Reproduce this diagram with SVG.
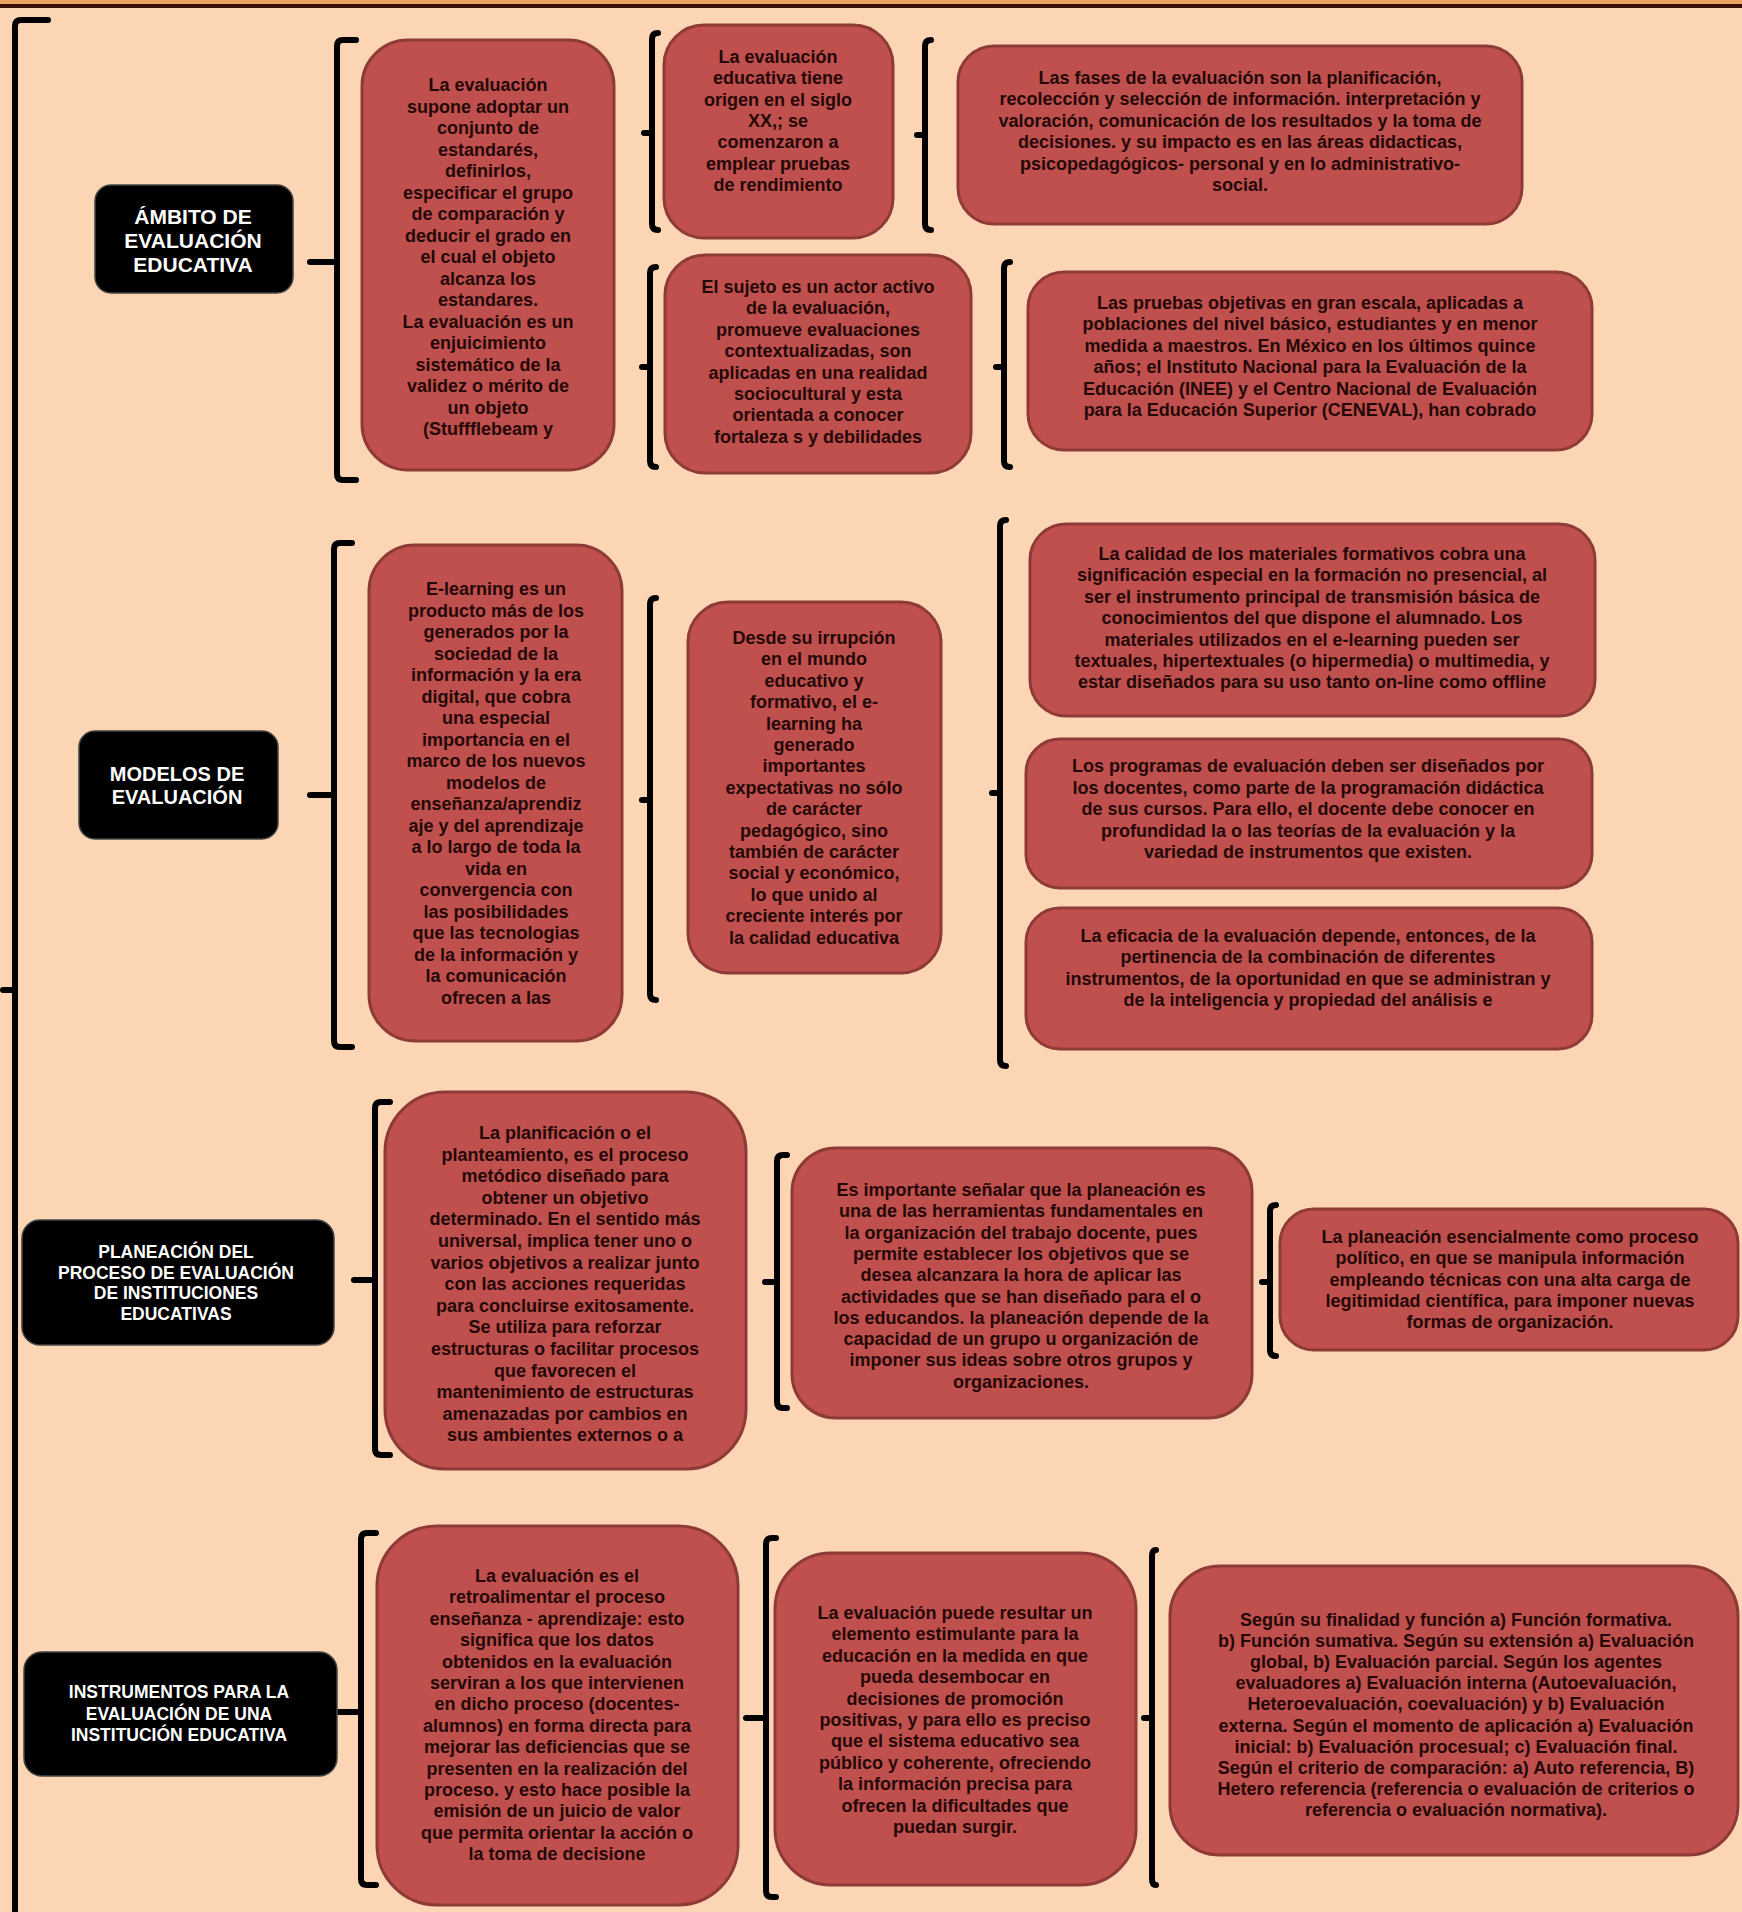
<svg xmlns="http://www.w3.org/2000/svg" width="1742" height="1912" viewBox="0 0 1742 1912">
<style>
.bg{fill:#FCD5B5}
.bx{fill:#C0504D;stroke:#8E3A37;stroke-width:3}
.hd{fill:#000;stroke:#444;stroke-width:1.5}
.t{font-family:"Liberation Sans",Arial,sans-serif;font-size:18px;font-weight:bold;fill:#240808;text-anchor:middle}
.h{font-family:"Liberation Sans",Arial,sans-serif;font-weight:bold;fill:#fff;text-anchor:middle}
.br{fill:none;stroke:#000;stroke-width:6;stroke-linecap:round;stroke-linejoin:round}
.nb{fill:none;stroke:#000;stroke-width:6;stroke-linecap:round}
</style>
<rect class="bg" x="0" y="0" width="1742" height="1912"/>
<rect x="0" y="0" width="1742" height="4" fill="#E8A462"/>
<rect x="0" y="4" width="1742" height="4" fill="#3A0E08"/>

<g id="connectors">
  <!-- main bracket -->
  <path class="br" stroke-width="5" d="M48 20 L21 20 Q15 20 15 26 L15 1930"/>
  <path class="nb" stroke-width="5" d="M3 990 L15 990"/>
  <!-- row 1 -->
  <path class="br" d="M356 40 L343 40 Q337 40 337 46 L337 474 Q337 480 343 480 L356 480"/>
  <path class="nb" d="M310 262 L337 262"/>
  <path class="br" d="M658 33 Q652 33 652 39 L652 224 Q652 230 658 230"/>
  <path class="nb" d="M644 133 L652 133"/>
  <path class="br" d="M931 40 Q925 40 925 46 L925 224 Q925 230 931 230"/>
  <path class="nb" d="M917 135 L925 135"/>
  <path class="br" d="M656 267 Q650 267 650 273 L650 461 Q650 467 656 467"/>
  <path class="nb" d="M642 367 L650 367"/>
  <path class="br" d="M1010 262 Q1004 262 1004 268 L1004 461 Q1004 467 1010 467"/>
  <path class="nb" d="M996 367 L1004 367"/>
  <!-- row 2 -->
  <path class="br" d="M352 543 L340 543 Q334 543 334 549 L334 1041 Q334 1047 340 1047 L352 1047"/>
  <path class="nb" d="M310 795 L334 795"/>
  <path class="br" d="M656 598 Q650 598 650 604 L650 994 Q650 1000 656 1000"/>
  <path class="nb" d="M642 800 L650 800"/>
  <path class="br" d="M1006 520 Q1000 520 1000 526 L1000 1060 Q1000 1066 1006 1066"/>
  <path class="nb" d="M992 793 L1000 793"/>
  <!-- row 3 -->
  <path class="br" d="M390 1102 L381 1102 Q375 1102 375 1108 L375 1449 Q375 1455 381 1455 L390 1455"/>
  <path class="nb" d="M354 1280 L375 1280"/>
  <path class="br" d="M787 1155 L783 1155 Q777 1155 777 1161 L777 1402 Q777 1408 783 1408 L787 1408"/>
  <path class="nb" d="M765 1282 L777 1282"/>
  <path class="br" d="M1276 1205 Q1270 1205 1270 1211 L1270 1350 Q1270 1356 1276 1356"/>
  <path class="nb" d="M1262 1282 L1270 1282"/>
  <!-- row 4 -->
  <path class="br" d="M376 1533 L367 1533 Q361 1533 361 1539 L361 1879 Q361 1885 367 1885 L376 1885"/>
  <path class="nb" d="M339 1712 L361 1712"/>
  <path class="br" d="M776 1538 L772 1538 Q766 1538 766 1544 L766 1891 Q766 1897 772 1897 L776 1897"/>
  <path class="nb" d="M746 1718 L766 1718"/>
  <path class="br" d="M1156 1550 Q1152 1550 1152 1556 L1152 1879 Q1152 1885 1156 1885"/>
  <path class="nb" d="M1144 1718 L1152 1718"/>
</g>

<g id="ambito">
  <rect class="hd" x="95" y="185" width="198" height="108" rx="16"/>
  <text class="h" font-size="21" x="193" y="224">ÁMBITO DE<tspan x="193" dy="23.5">EVALUACIÓN</tspan><tspan x="193" dy="24.5">EDUCATIVA</tspan></text>
</g>

<g id="n1">
  <rect class="bx" x="362" y="40" width="252" height="430" rx="46"/>
  <text class="t" font-size="19" x="488" y="91">La evaluación<tspan x="488" dy="21.5">supone adoptar un</tspan><tspan x="488" dy="21.5">conjunto de</tspan><tspan x="488" dy="21.5">estandarés,</tspan><tspan x="488" dy="21.5">definirlos,</tspan><tspan x="488" dy="21.5">especificar el grupo</tspan><tspan x="488" dy="21.5">de comparación y</tspan><tspan x="488" dy="21.5">deducir el grado en</tspan><tspan x="488" dy="21.5">el cual el objeto</tspan><tspan x="488" dy="21.5">alcanza los</tspan><tspan x="488" dy="21.5">estandares.</tspan><tspan x="488" dy="21.5">La evaluación es un</tspan><tspan x="488" dy="21.5">enjuicimiento</tspan><tspan x="488" dy="21.5">sistemático de la</tspan><tspan x="488" dy="21.5">validez o mérito de</tspan><tspan x="488" dy="21.5">un objeto</tspan><tspan x="488" dy="21.5">(Stuffflebeam y</tspan></text>
</g>

<g id="n2">
  <rect class="bx" x="664" y="25" width="229" height="213" rx="40"/>
  <text class="t" x="778" y="63">La evaluación<tspan x="778" dy="21.3">educativa tiene</tspan><tspan x="778" dy="21.3">origen en el siglo</tspan><tspan x="778" dy="21.3">XX,; se</tspan><tspan x="778" dy="21.3">comenzaron a</tspan><tspan x="778" dy="21.3">emplear pruebas</tspan><tspan x="778" dy="21.3">de rendimiento</tspan></text>
</g>

<g id="n3">
  <rect class="bx" x="958" y="46" width="564" height="178" rx="36"/>
  <text class="t" x="1240" y="84">Las fases de la evaluación son la planificación,<tspan x="1240" dy="21.4">recolección y selección de información. interpretación y</tspan><tspan x="1240" dy="21.4">valoración, comunicación de los resultados y la toma de</tspan><tspan x="1240" dy="21.4">decisiones. y su impacto es en las áreas didacticas,</tspan><tspan x="1240" dy="21.4">psicopedagógicos- personal y en lo administrativo-</tspan><tspan x="1240" dy="21.4">social.</tspan></text>
</g>

<g id="n4">
  <rect class="bx" x="665" y="255" width="306" height="218" rx="40"/>
  <text class="t" x="818" y="293">El sujeto es un actor activo<tspan x="818" dy="21.4">de la evaluación,</tspan><tspan x="818" dy="21.4">promueve evaluaciones</tspan><tspan x="818" dy="21.4">contextualizadas, son</tspan><tspan x="818" dy="21.4">aplicadas  en una realidad</tspan><tspan x="818" dy="21.4">sociocultural y esta</tspan><tspan x="818" dy="21.4">orientada a conocer</tspan><tspan x="818" dy="21.4">fortaleza s y debilidades</tspan></text>
</g>

<g id="n5">
  <rect class="bx" x="1028" y="272" width="564" height="178" rx="36"/>
  <text class="t" x="1310" y="309">Las pruebas objetivas en gran escala, aplicadas a<tspan x="1310" dy="21.4">poblaciones del nivel básico, estudiantes y en menor</tspan><tspan x="1310" dy="21.4">medida a maestros. En México en los últimos quince</tspan><tspan x="1310" dy="21.4">años; el Instituto Nacional para la Evaluación de la</tspan><tspan x="1310" dy="21.4">Educación (INEE) y el Centro Nacional de Evaluación</tspan><tspan x="1310" dy="21.4">para la Educación Superior (CENEVAL), han cobrado</tspan></text>
</g>

<g id="modelos">
  <rect class="hd" x="79" y="731" width="199" height="108" rx="16"/>
  <text class="h" font-size="20" x="177" y="781">MODELOS DE<tspan x="177" dy="22.5">EVALUACIÓN</tspan></text>
</g>

<g id="n6">
  <rect class="bx" x="369" y="545" width="253" height="496" rx="46"/>
  <text class="t" x="496" y="595">E-learning es un<tspan x="496" dy="21.5">producto más de los</tspan><tspan x="496" dy="21.5">generados por la</tspan><tspan x="496" dy="21.5">sociedad de la</tspan><tspan x="496" dy="21.5">información y la era</tspan><tspan x="496" dy="21.5">digital, que cobra</tspan><tspan x="496" dy="21.5">una especial</tspan><tspan x="496" dy="21.5">importancia en el</tspan><tspan x="496" dy="21.5">marco de los nuevos</tspan><tspan x="496" dy="21.5">modelos de</tspan><tspan x="496" dy="21.5">enseñanza/aprendiz</tspan><tspan x="496" dy="21.5">aje y del aprendizaje</tspan><tspan x="496" dy="21.5">a lo largo de toda la</tspan><tspan x="496" dy="21.5">vida en</tspan><tspan x="496" dy="21.5">convergencia con</tspan><tspan x="496" dy="21.5">las posibilidades</tspan><tspan x="496" dy="21.5">que las tecnologias</tspan><tspan x="496" dy="21.5">de la información y</tspan><tspan x="496" dy="21.5">la comunicación</tspan><tspan x="496" dy="21.5">ofrecen  a las</tspan></text>
</g>

<g id="n7">
  <rect class="bx" x="688" y="602" width="253" height="371" rx="40"/>
  <text class="t" x="814" y="644">Desde su irrupción<tspan x="814" dy="21.4">en el mundo</tspan><tspan x="814" dy="21.4">educativo y</tspan><tspan x="814" dy="21.4">formativo, el e-</tspan><tspan x="814" dy="21.4">learning ha</tspan><tspan x="814" dy="21.4">generado</tspan><tspan x="814" dy="21.4">importantes</tspan><tspan x="814" dy="21.4">expectativas  no sólo</tspan><tspan x="814" dy="21.4">de carácter</tspan><tspan x="814" dy="21.4">pedagógico, sino</tspan><tspan x="814" dy="21.4">también de carácter</tspan><tspan x="814" dy="21.4">social y económico,</tspan><tspan x="814" dy="21.4">lo que unido al</tspan><tspan x="814" dy="21.4">creciente interés por</tspan><tspan x="814" dy="21.4">la calidad educativa</tspan></text>
</g>

<g id="n8">
  <rect class="bx" x="1030" y="524" width="565" height="192" rx="36"/>
  <text class="t" x="1312" y="560">La calidad de los materiales formativos cobra una<tspan x="1312" dy="21.4">significación especial en la formación no presencial, al</tspan><tspan x="1312" dy="21.4">ser el instrumento principal de transmisión básica de</tspan><tspan x="1312" dy="21.4">conocimientos del que dispone el alumnado. Los</tspan><tspan x="1312" dy="21.4">materiales utilizados en el e-learning pueden ser</tspan><tspan x="1312" dy="21.4">textuales, hipertextuales (o hipermedia) o multimedia, y</tspan><tspan x="1312" dy="21.4">estar diseñados para su uso tanto on-line como offline</tspan></text>
</g>

<g id="n9">
  <rect class="bx" x="1026" y="739" width="566" height="149" rx="34"/>
  <text class="t" x="1308" y="772">Los programas de evaluación deben ser diseñados por<tspan x="1308" dy="21.5">los docentes, como parte de la programación didáctica</tspan><tspan x="1308" dy="21.5">de sus cursos. Para ello, el docente debe conocer en</tspan><tspan x="1308" dy="21.5">profundidad la o las teorías de la evaluación y la</tspan><tspan x="1308" dy="21.5">variedad de instrumentos que existen.</tspan></text>
</g>

<g id="n10">
  <rect class="bx" x="1026" y="908" width="566" height="141" rx="34"/>
  <text class="t" x="1308" y="942">La eficacia de la evaluación depende, entonces, de la<tspan x="1308" dy="21.3">pertinencia de la combinación de diferentes</tspan><tspan x="1308" dy="21.3">instrumentos, de la oportunidad en que se administran y</tspan><tspan x="1308" dy="21.3">de la inteligencia y propiedad del análisis e</tspan></text>
</g>

<g id="planeacion">
  <rect class="hd" x="22" y="1220" width="312" height="125" rx="18"/>
  <text class="h" font-size="17.5" x="176" y="1258">PLANEACIÓN  DEL<tspan x="176" dy="20.5">PROCESO DE EVALUACIÓN</tspan><tspan x="176" dy="20.5">DE INSTITUCIONES</tspan><tspan x="176" dy="20.5">EDUCATIVAS</tspan></text>
</g>

<g id="n11">
  <rect class="bx" x="385" y="1092" width="361" height="377" rx="60"/>
  <text class="t" x="565" y="1139">La planificación o el<tspan x="565" dy="21.6">planteamiento, es el proceso</tspan><tspan x="565" dy="21.6">metódico diseñado para</tspan><tspan x="565" dy="21.6">obtener un objetivo</tspan><tspan x="565" dy="21.6">determinado. En el sentido más</tspan><tspan x="565" dy="21.6">universal, implica tener uno o</tspan><tspan x="565" dy="21.6">varios objetivos a realizar junto</tspan><tspan x="565" dy="21.6">con las acciones requeridas</tspan><tspan x="565" dy="21.6">para concluirse exitosamente.</tspan><tspan x="565" dy="21.6">Se utiliza para reforzar</tspan><tspan x="565" dy="21.6">estructuras o facilitar procesos</tspan><tspan x="565" dy="21.6">que favorecen el</tspan><tspan x="565" dy="21.6">mantenimiento de estructuras</tspan><tspan x="565" dy="21.6">amenazadas por cambios en</tspan><tspan x="565" dy="21.6">sus ambientes externos o a</tspan></text>
</g>

<g id="n12">
  <rect class="bx" x="792" y="1148" width="460" height="270" rx="44"/>
  <text class="t" x="1021" y="1196">Es importante señalar que la planeación es<tspan x="1021" dy="21.3">una de las herramientas fundamentales en</tspan><tspan x="1021" dy="21.3">la organización del trabajo docente, pues</tspan><tspan x="1021" dy="21.3">permite establecer los objetivos que se</tspan><tspan x="1021" dy="21.3">desea alcanzara la hora de aplicar las</tspan><tspan x="1021" dy="21.3">actividades que se han diseñado para el o</tspan><tspan x="1021" dy="21.3">los educandos. la planeación depende de la</tspan><tspan x="1021" dy="21.3">capacidad de un grupo u organización de</tspan><tspan x="1021" dy="21.3">imponer sus ideas sobre otros grupos y</tspan><tspan x="1021" dy="21.3">organizaciones.</tspan></text>
</g>

<g id="n13">
  <rect class="bx" x="1280" y="1209" width="458" height="141" rx="34"/>
  <text class="t" x="1510" y="1243">La planeación esencialmente como proceso<tspan x="1510" dy="21.3">político, en que se manipula información</tspan><tspan x="1510" dy="21.3">empleando técnicas con una alta carga de</tspan><tspan x="1510" dy="21.3">legitimidad científica, para imponer nuevas</tspan><tspan x="1510" dy="21.3">formas de organización.</tspan></text>
</g>

<g id="instrumentos">
  <rect class="hd" x="24" y="1652" width="313" height="124" rx="18"/>
  <text class="h" font-size="17.5" x="179" y="1698">INSTRUMENTOS PARA  LA<tspan x="179" dy="21.5">EVALUACIÓN  DE UNA</tspan><tspan x="179" dy="21.5">INSTITUCIÓN EDUCATIVA</tspan></text>
</g>

<g id="n14">
  <rect class="bx" x="377" y="1526" width="361" height="379" rx="60"/>
  <text class="t" x="557" y="1582">La  evaluación es el<tspan x="557" dy="21.4">retroalimentar el proceso</tspan><tspan x="557" dy="21.4">enseñanza - aprendizaje: esto</tspan><tspan x="557" dy="21.4">significa que los datos</tspan><tspan x="557" dy="21.4">obtenidos en la evaluación</tspan><tspan x="557" dy="21.4">serviran  a los que  intervienen</tspan><tspan x="557" dy="21.4">en dicho  proceso (docentes-</tspan><tspan x="557" dy="21.4">alumnos)  en forma directa para</tspan><tspan x="557" dy="21.4">mejorar las deficiencias que se</tspan><tspan x="557" dy="21.4">presenten en la realización del</tspan><tspan x="557" dy="21.4">proceso. y esto hace posible la</tspan><tspan x="557" dy="21.4">emisión de un juicio de valor</tspan><tspan x="557" dy="21.4">que permita orientar la acción o</tspan><tspan x="557" dy="21.4">la toma de decisione</tspan></text>
</g>

<g id="n15">
  <rect class="bx" x="775" y="1553" width="361" height="332" rx="56"/>
  <text class="t" x="955" y="1619">La evaluación puede resultar un<tspan x="955" dy="21.4">elemento estimulante para la</tspan><tspan x="955" dy="21.4">educación en la medida en que</tspan><tspan x="955" dy="21.4">pueda desembocar en</tspan><tspan x="955" dy="21.4">decisiones de promoción</tspan><tspan x="955" dy="21.4">positivas, y para ello es preciso</tspan><tspan x="955" dy="21.4">que el  sistema educativo sea</tspan><tspan x="955" dy="21.4">público y coherente, ofreciendo</tspan><tspan x="955" dy="21.4">la información precisa para</tspan><tspan x="955" dy="21.4">ofrecen la dificultades que</tspan><tspan x="955" dy="21.4">puedan surgir.</tspan></text>
</g>

<g id="n16">
  <rect class="bx" x="1170" y="1566" width="568" height="289" rx="50"/>
  <text class="t" x="1456" y="1626">Según  su finalidad y función a) Función formativa.<tspan x="1456" dy="21.1">b) Función sumativa.  Según su extensión a) Evaluación</tspan><tspan x="1456" dy="21.1">global, b) Evaluación parcial.  Según los agentes</tspan><tspan x="1456" dy="21.1">evaluadores a) Evaluación  interna (Autoevaluación,</tspan><tspan x="1456" dy="21.1">Heteroevaluación, coevaluación) y b) Evaluación</tspan><tspan x="1456" dy="21.1">externa.  Según  el momento de aplicación a) Evaluación</tspan><tspan x="1456" dy="21.1">inicial: b) Evaluación procesual; c) Evaluación final.</tspan><tspan x="1456" dy="21.1">Según el criterio de comparación: a) Auto  referencia, B)</tspan><tspan x="1456" dy="21.1">Hetero referencia (referencia o evaluación de criterios o</tspan><tspan x="1456" dy="21.1">referencia o evaluación normativa).</tspan></text>
</g>
</svg>
